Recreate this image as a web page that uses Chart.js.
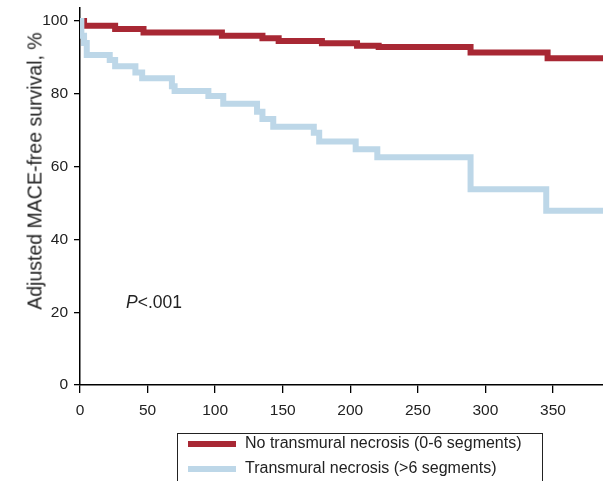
<!DOCTYPE html>
<html>
<head>
<meta charset="utf-8">
<script src="https://cdn.jsdelivr.net/npm/chart.js@4/dist/chart.umd.min.js"></script>
<style>
  body { margin: 0; background: #fff; }
  #wrap { position: relative; width: 603px; height: 481px; overflow: hidden; font-family: "Liberation Sans", Arial, sans-serif; color: #222; }
  #km { display: block; }
  #ytitle { position: absolute; left: 35px; top: 171px; transform: translate(-50%, -50%) rotate(-90deg); white-space: nowrap; font-size: 19.5px; }
  #pval { position: absolute; left: 126px; top: 292px; font-size: 17.5px; }
  #legend { position: absolute; left: 177px; top: 433px; width: 364px; height: 80px; border: 1px solid #222; font-size: 16px; }
  .item { position: absolute; left: 10px; height: 20px; line-height: 20px; white-space: nowrap; }
  .swatch { display: inline-block; width: 48px; height: 6px; vertical-align: middle; margin-right: 9px; }
</style>
</head>
<body>
<div id="wrap">
  <canvas id="km" width="603" height="481"></canvas>
  <div id="ytitle">Adjusted MACE-free survival, %</div>
  <div id="pval"><i>P</i>&lt;.001</div>
  <div id="legend">
    <div class="item" style="top:-1px"><span class="swatch" style="background:#a82834"></span>No transmural necrosis (0-6 segments)</div>
    <div class="item" style="top:24px"><span class="swatch" style="background:#bdd7e8"></span>Transmural necrosis (&gt;6 segments)</div>
  </div>
</div>
<script>
// days and adjusted survival (%) at each step
var noNecrosisDays = [0, 3, 26, 47, 105, 135, 147, 179, 205, 221, 289, 346, 387];
var noNecrosisSurv = [100, 98.7, 97.8, 96.9, 96.0, 95.3, 94.5, 93.9, 93.2, 92.9, 91.4, 89.8, 89.8];

var necrosisDays = [0, 1, 3, 5, 22, 26, 41, 46, 68, 70, 95, 106, 131, 135, 143, 173, 177, 204, 220, 289, 345, 387];
var necrosisSurv = [100, 96, 94, 90.7, 89.3, 87.6, 85.9, 84.3, 82.1, 80.8, 79.4, 77.3, 75.1, 73.1, 71.0, 69.3, 66.9, 64.8, 62.6, 53.8, 47.9, 47.9];

var xTicks = [0, 50, 100, 150, 200, 250, 300, 350];
var yTicks = [0, 20, 40, 60, 80, 100];

function toPoints(days, surv) {
  var pts = [];
  for (var i = 0; i < days.length; i++) {
    pts.push({ x: days[i], y: surv[i] });
  }
  return pts;
}

// fixed axis box sizes so the plot area lands where the original has it
function noPad(s) {
  s.paddingTop = 0;
  s.paddingBottom = 0;
  s.paddingLeft = 0;
  s.paddingRight = 0;
}

var tickFont = { family: '"Liberation Sans", Arial, sans-serif', size: 15.5 };

var ctx = document.getElementById('km');
var kmChart = new Chart(ctx, {
  type: 'line',
  data: {
    datasets: [{
      label: 'No transmural necrosis (0-6 segments)',
      data: toPoints(noNecrosisDays, noNecrosisSurv),
      borderColor: '#a82834',
      borderWidth: 6,
      stepped: true,
      pointRadius: 0,
      fill: false,
      order: 1
    }, {
      label: 'Transmural necrosis (>6 segments)',
      data: toPoints(necrosisDays, necrosisSurv),
      borderColor: '#bdd7e8',
      borderWidth: 6,
      stepped: true,
      pointRadius: 0,
      fill: false,
      order: 0
    }]
  },
  options: {
    responsive: false,
    animation: false,
    devicePixelRatio: 1,
    layout: { padding: { top: 8, right: 0, left: 0, bottom: 0 } },
    plugins: { legend: { display: false }, tooltip: { enabled: false } },
    scales: {
      x: {
        type: 'linear',
        min: 0,
        max: 387,
        afterFit: function(s) { s.height = 96; noPad(s); },
        afterBuildTicks: function(s) { s.ticks = xTicks.map(function(v) { return { value: v }; }); },
        ticks: { font: tickFont, color: '#222', padding: 8, maxRotation: 0 },
        grid: { drawOnChartArea: false, tickLength: 8, color: '#000', lineWidth: 1.3 },
        border: { color: '#000', width: 1.5 }
      },
      y: {
        min: 0,
        max: 103.6,
        afterFit: function(s) { s.width = 80; noPad(s); },
        afterBuildTicks: function(s) { s.ticks = yTicks.map(function(v) { return { value: v }; }); },
        ticks: { font: tickFont, color: '#222', padding: 6 },
        grid: { drawOnChartArea: false, tickLength: 6, color: '#000', lineWidth: 1.3 },
        border: { color: '#000', width: 1.5 }
      }
    }
  }
});
</script>
</body>
</html>
